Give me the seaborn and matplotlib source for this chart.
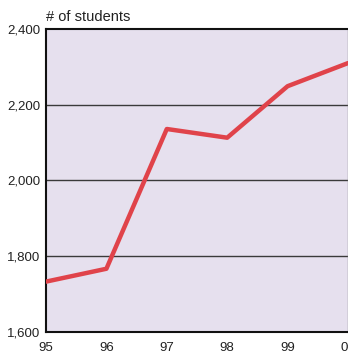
import matplotlib
matplotlib.use("Agg")
import matplotlib.pyplot as plt
import seaborn as sns
import pandas as pd

years = ["95", "96", "97", "98", "99", "00"]
students = [1733, 1767, 2136, 2113, 2249, 2310]
y_ticks = [1600, 1800, 2000, 2200, 2400]

df = pd.DataFrame({"pos": range(len(years)), "students": students})

sns.set_style("white")
plt.rcParams["font.family"] = ["Liberation Sans", "DejaVu Sans"]

fig = plt.figure(figsize=(3.48, 3.57), dpi=100)
ax = fig.add_axes([46 / 348, 25 / 357, 302 / 348, 303 / 357])
ax.set_facecolor("#e6e0ee")

for v in y_ticks[1:-1]:
    ax.axhline(v, color="#3a3a3a", lw=1.0, zorder=1)

sns.lineplot(data=df, x="pos", y="students", color="#e0434a", lw=3.2, ax=ax,
             zorder=3, clip_on=True)

ax.set_xlim(0, len(years) - 1)
ax.set_ylim(1600, 2400)
ax.set_xticks(range(len(years)))
ax.set_xticklabels(years)
ax.set_yticks(y_ticks)
ax.set_yticklabels([f"{v:,}" for v in y_ticks])
ax.tick_params(axis="both", length=0, labelsize=9.5, colors="#222222")
ax.tick_params(axis="x", pad=7)
ax.tick_params(axis="y", pad=4)
ax.set_xlabel("")
ax.set_ylabel("")

for s in ["left", "bottom", "top"]:
    ax.spines[s].set_color("#111111")
    ax.spines[s].set_linewidth(1.5)
ax.spines["right"].set_color("#888888")
ax.spines["right"].set_linewidth(1.0)

fig.text(46 / 348, 1 - 17 / 357, "# of students", fontsize=10.5, color="#222222",
         va="center", ha="left")

fig.savefig("out.png", dpi=100)
